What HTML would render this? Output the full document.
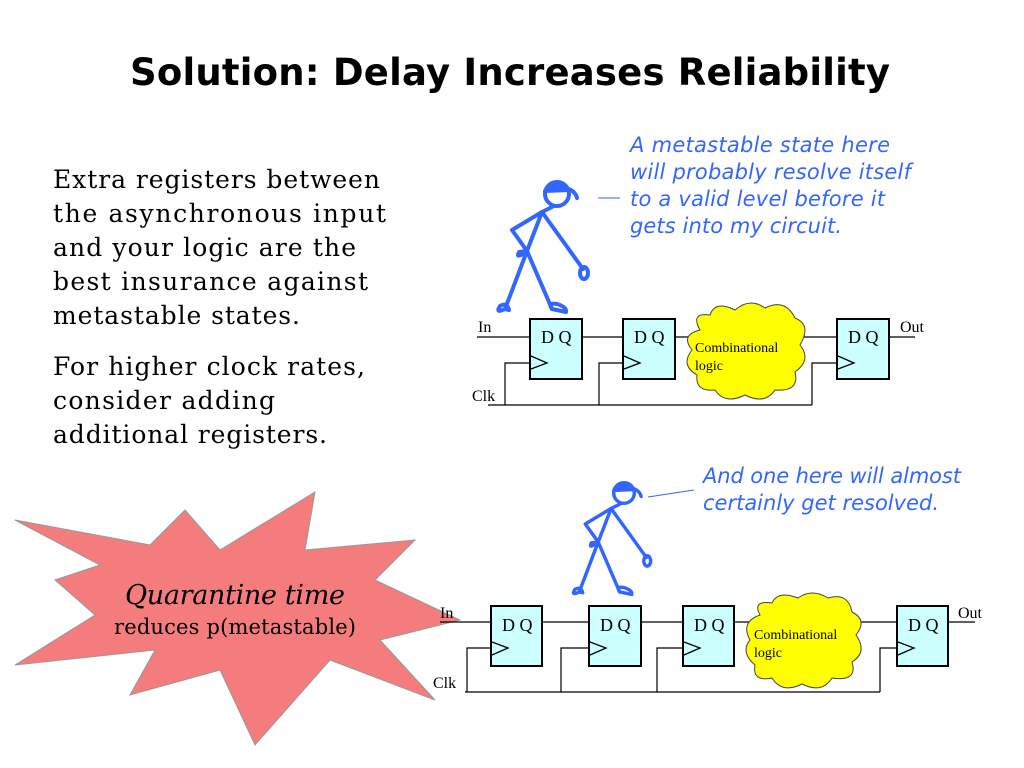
<!DOCTYPE html>
<html><head><meta charset="utf-8"><style>
body{margin:0;background:#fff;}
svg{display:block}
.t{font-family:"DejaVu Sans","Liberation Sans",sans-serif;}
.b{font-family:"DejaVu Serif","Liberation Serif",serif;}
.s{font-family:"Liberation Serif",serif;}
.c{font-family:"DejaVu Sans","Liberation Sans",sans-serif;font-style:italic;fill:#3366ff;font-size:21px;}
</style></head><body>
<svg width="1024" height="768" viewBox="0 0 1024 768">
<text x="510" y="85" text-anchor="middle" class="t" font-size="37" font-weight="bold" fill="#000" textLength="760">Solution: Delay Increases Reliability</text>
<g class="b" font-size="25" fill="#000">
<text x="53" y="188" textLength="327">Extra registers between</text>
<text x="53" y="222" textLength="333">the asynchronous input</text>
<text x="53" y="256" textLength="303">and your logic are the</text>
<text x="53" y="290" textLength="315">best insurance against</text>
<text x="53" y="324" textLength="247">metastable states.</text>
<text x="53" y="375" textLength="312">For higher clock rates,</text>
<text x="53" y="409" textLength="222">consider adding</text>
<text x="53" y="443" textLength="274">additional registers.</text>
</g>
<g class="c">
<text x="630" y="152" textLength="260">A metastable state here</text>
<text x="630" y="179" textLength="281">will probably resolve itself</text>
<text x="630" y="206" textLength="255">to a valid level before it</text>
<text x="630" y="233" textLength="212">gets into my circuit.</text>
<text x="703" y="483" textLength="258">And one here will almost</text>
<text x="703" y="510" textLength="236">certainly get resolved.</text>
</g>
<line x1="598" y1="198" x2="620" y2="198" stroke="#3366ff" stroke-width="1"/>
<line x1="648" y1="497" x2="694" y2="490" stroke="#3366ff" stroke-width="1"/>
<polygon points="15,520 150,545 185,510 220,550 315,492 305,550 415,540 375,580 460,620 380,640 435,700 330,660 255,745 220,670 130,695 155,650 15,665 95,615 55,580 100,565" fill="#f47c7c" stroke="#999" stroke-width="1"/>
<text x="235" y="604" text-anchor="middle" class="b" font-size="27" font-style="italic" textLength="220">Quarantine time</text>
<text x="235" y="634" text-anchor="middle" class="b" font-size="21" textLength="242">reduces p(metastable)</text>
<defs>
<g id="fig" fill="none" stroke="#3366ff" stroke-width="4" stroke-linecap="round" stroke-linejoin="round">
<circle cx="0" cy="0" r="12"/>
<path d="M-12,-3 Q-2,-17 12,-4 Z" fill="#3366ff"/>
<path d="M8,-6 Q18,-4 20,4"/>
<path d="M-3,12 L-15,18 L-45,36 L-30,57 M-15,18 L26,75"/>
<ellipse cx="27" cy="79" rx="4" ry="6"/>
<path d="M-30,57 Q-42,66 -38,58 Z"/>
<path d="M-15,18 L-30,57 L-52,115 M-30,57 L-5,115"/>
<path d="M-52,115 Q-62,120 -57,112 Q-50,108 -48,116 Z"/>
<path d="M-5,115 Q-10,108 0,110 Q10,113 9,118 Z"/>
</g>
</defs>
<use href="#fig" transform="translate(557,194)"/>
<use href="#fig" transform="translate(624,493) scale(0.86)"/>
<g stroke="#000" stroke-width="1.2" fill="none">
<path d="M477,337 H530 M582,337 H623 M676,337 H700 M795,337 H837 M889,337 H915"/>
<path d="M488,405 H812 M505,405 V363 H530 M599,405 V363 H623 M812,405 V363 H837"/>
</g>
<g class="s" font-size="16" fill="#000">
<text x="478" y="332">In</text><text x="900" y="332">Out</text><text x="472" y="401">Clk</text>
</g>
<g stroke="#000" stroke-width="2" fill="#ccffff">
<rect x="530" y="319" width="52" height="60"/><rect x="623" y="319" width="52" height="60"/><rect x="837" y="319" width="52" height="60"/>
</g>
<g stroke="#000" stroke-width="1.3" fill="none">
<path d="M531,356 L547,363 L531,369"/><path d="M624,356 L640,363 L624,369"/><path d="M838,356 L854,363 L838,369"/>
</g>
<g class="s" font-size="18" fill="#000">
<text x="541" y="343">D Q</text><text x="634" y="343">D Q</text><text x="848" y="343">D Q</text>
</g>
<path d="M700,330 Q690,312 710,315 Q715,300 735,310 Q750,297 765,308 Q785,298 795,318 Q812,325 800,345 Q812,360 795,372 Q800,392 775,390 Q765,405 745,395 Q725,405 715,390 Q695,392 697,375 Q680,365 692,350 Q680,335 700,330 Z" fill="#ffff00" stroke="#444" stroke-width="1"/>
<text x="695" y="352" class="s" font-size="14" fill="#000">Combinational</text>
<text x="695" y="370" class="s" font-size="14" fill="#000">logic</text>
<g stroke="#000" stroke-width="1.2" fill="none">
<path d="M440,622 H491 M542,622 H589 M641,622 H683 M734,622 H760 M850,622 H897 M948,622 H975"/>
<path d="M465,692 H880 M467,692 V648 H491 M561,692 V648 H589 M657,692 V648 H683 M880,692 V648 H897"/>
</g>
<g class="s" font-size="16" fill="#000">
<text x="440" y="618">In</text><text x="958" y="618">Out</text><text x="433" y="688">Clk</text>
</g>
<g stroke="#000" stroke-width="2" fill="#ccffff">
<rect x="491" y="606" width="51" height="60"/><rect x="589" y="606" width="52" height="60"/><rect x="683" y="606" width="51" height="60"/><rect x="897" y="606" width="51" height="60"/>
</g>
<g stroke="#000" stroke-width="1.3" fill="none">
<path d="M492,642 L508,648 L492,655"/><path d="M590,642 L606,648 L590,655"/><path d="M684,642 L700,648 L684,655"/><path d="M898,642 L914,648 L898,655"/>
</g>
<g class="s" font-size="18" fill="#000">
<text x="502" y="631">D Q</text><text x="600" y="631">D Q</text><text x="694" y="631">D Q</text><text x="908" y="631">D Q</text>
</g>
<path d="M760,615 Q752,600 772,603 Q778,590 798,598 Q812,588 828,598 Q848,592 852,612 Q868,620 856,635 Q868,652 852,662 Q858,682 832,678 Q822,694 802,684 Q782,694 772,678 Q752,682 755,665 Q740,652 750,640 Q740,622 760,615 Z" fill="#ffff00" stroke="#444" stroke-width="1"/>
<text x="754" y="639" class="s" font-size="14" fill="#000">Combinational</text>
<text x="754" y="657" class="s" font-size="14" fill="#000">logic</text>
</svg>
</body></html>
